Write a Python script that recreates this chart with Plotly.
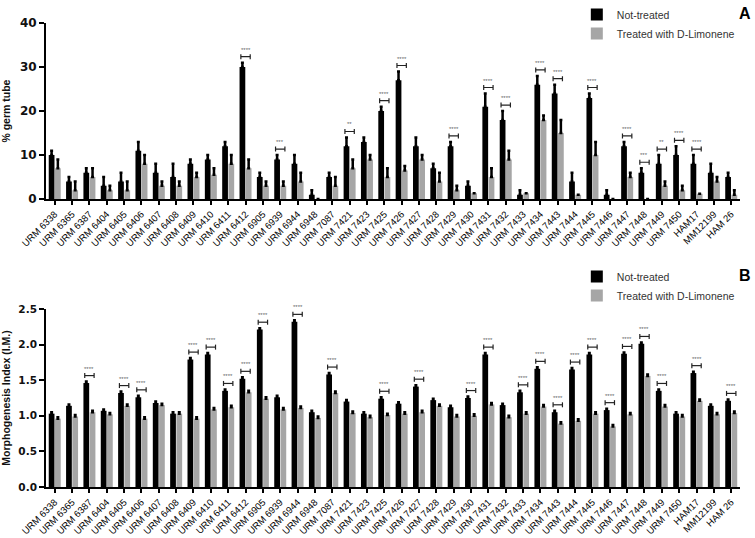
import plotly.graph_objects as go

categories = ["URM 6338", "URM 6365", "URM 6387", "URM 6404", "URM 6405", "URM 6406",
              "URM 6407", "URM 6408", "URM 6409", "URM 6410", "URM 6411", "URM 6412",
              "URM 6905", "URM 6939", "URM 6944", "URM 6948", "URM 7087", "URM 7421",
              "URM 7423", "URM 7425", "URM 7426", "URM 7427", "URM 7428", "URM 7429",
              "URM 7430", "URM 7431", "URM 7432", "URM 7433", "URM 7434", "URM 7443",
              "URM 7444", "URM 7445", "URM 7446", "URM 7447", "URM 7448", "URM 7449",
              "URM 7450", "HAM17", "MM12199", "HAM 26"]

# Panel A: % germ tube
germ_not_treated = [10, 4, 6, 3, 4, 11, 6, 5, 8, 9, 12, 30, 5, 9, 8, 1, 5, 12, 13, 20,
                    27, 12, 7, 12, 3, 21, 18, 1, 26, 24, 4, 23, 1, 12, 6, 8, 10, 8, 6, 5]
germ_not_treated_err = [1, 1, 1, 2, 2, 2, 2, 3, 1, 1, 1, 1, 1, 1, 2, 1, 1, 2, 1, 1,
                        2, 2, 1, 1, 1, 3, 2, 1, 2, 2, 2, 1, 1, 1, 1, 2, 2, 2, 2, 1]
germ_treated = [7, 2, 5, 2, 2, 8, 3, 3, 5, 5.5, 8, 7, 3, 3, 4, 0, 3, 7, 9, 5,
                6.5, 9, 4, 2, 1.3, 5, 9, 1.3, 18, 15, 1, 10, 0, 5, 0, 3, 2, 1.2, 4, 1]
germ_treated_err = [2, 2, 2, 1, 2, 2, 1, 1, 1, 1.5, 2, 2, 1, 1, 2, 0, 2, 2, 1, 2,
                    1, 1, 2, 1, 0, 2, 2, 0, 1, 3, 0, 3, 0, 1, 0, 1, 1, 0, 1, 1]
germ_sig = ["", "", "", "", "", "", "", "", "", "", "", "****", "", "***", "", "", "", "**",
            "", "****", "****", "", "", "****", "", "****", "****", "", "****", "****", "",
            "****", "", "****", "***", "**", "****", "****", "", ""]

# Panel B: Morphogenesis Index
mi_not_treated = [1.03, 1.14, 1.46, 1.07, 1.32, 1.26, 1.18, 1.03, 1.79, 1.86, 1.35, 1.52,
                  2.21, 1.26, 2.32, 1.05, 1.58, 1.20, 1.03, 1.24, 1.17, 1.41, 1.22, 1.12,
                  1.25, 1.86, 1.15, 1.33, 1.66, 1.05, 1.65, 1.86, 1.08, 1.87, 2.01, 1.35,
                  1.03, 1.60, 1.14, 1.21]
mi_not_treated_err = [0.02] * 40
mi_treated = [0.96, 0.99, 1.05, 1.02, 1.14, 0.96, 1.15, 1.03, 0.96, 1.09, 1.12, 1.33,
              1.24, 1.09, 1.11, 0.97, 1.32, 1.04, 0.98, 1.01, 1.03, 1.05, 1.14, 0.99,
              1.00, 1.16, 0.98, 1.03, 1.13, 0.89, 0.93, 1.03, 0.85, 1.02, 1.56, 1.13,
              0.99, 1.21, 1.02, 1.04]
mi_treated_err = [0.02] * 40
mi_sig = ["", "", "****", "", "****", "****", "", "", "****", "****", "****", "****",
          "****", "", "****", "", "****", "", "", "****", "", "****", "", "",
          "****", "****", "", "****", "****", "****", "****", "****", "****", "****",
          "****", "****", "", "****", "", "****"]

BLACK = "#000000"
GREY = "#a6a6a6"
FONT = "Liberation Sans, Arial, sans-serif"

fig = go.Figure()


def add_panel(nt, nt_err, tr, tr_err, xa, ya, leg):
    fig.add_trace(go.Bar(
        x=categories, y=nt, name="Not-treated", marker_color=BLACK,
        marker_line_width=0, xaxis=xa, yaxis=ya, legend=leg, offsetgroup="nt",
        error_y=dict(type="data", array=nt_err, arrayminus=[0] * len(nt_err),
                     symmetric=False, color=BLACK, thickness=2.5, width=1.5)))
    fig.add_trace(go.Bar(
        x=categories, y=tr, name="Treated with D-Limonene", marker_color=GREY,
        marker_line_width=0, xaxis=xa, yaxis=ya, legend=leg, offsetgroup="tr",
        error_y=dict(type="data", array=tr_err, arrayminus=[0] * len(tr_err),
                     symmetric=False, color=BLACK, thickness=2.5, width=1.5)))


add_panel(germ_not_treated, germ_not_treated_err, germ_treated, germ_treated_err, "x", "y", "legend")
add_panel(mi_not_treated, mi_not_treated_err, mi_treated, mi_treated_err, "x2", "y2", "legend2")


def add_sig(nt, nt_err, tr, tr_err, sig, xref, yref):
    for i, s in enumerate(sig):
        if not s:
            continue
        top = max(nt[i] + nt_err[i], tr[i] + tr_err[i])
        line = dict(color="#222222", width=1.2)
        fig.add_shape(type="line", xref=xref, yref=yref, ysizemode="pixel", yanchor=top,
                      x0=i - 0.27, x1=i + 0.27, y0=6, y1=6, line=line)
        for xx in (i - 0.27, i + 0.27):
            fig.add_shape(type="line", xref=xref, yref=yref, ysizemode="pixel", yanchor=top,
                          x0=xx, x1=xx, y0=3.5, y1=8.5, line=line)
        fig.add_annotation(x=i, y=top, xref=xref, yref=yref, text=s, showarrow=False,
                           yshift=13, font=dict(size=6, color="#666666", family=FONT))


add_sig(germ_not_treated, germ_not_treated_err, germ_treated, germ_treated_err, germ_sig, "x", "y")
add_sig(mi_not_treated, mi_not_treated_err, mi_treated, mi_treated_err, mi_sig, "x2", "y2")

xcommon = dict(type="category", showline=True, linecolor="black", linewidth=2,
               ticks="outside", ticklen=4, tickwidth=1.5, tickcolor="black",
               tickangle=-45, tickfont=dict(family=FONT, size=9.5, color="#000000"),
               showgrid=False, zeroline=False, automargin=False,
               domain=[0.061, 0.98])
ycommon = dict(showline=True, linecolor="black", linewidth=2, ticks="outside",
               ticklen=5, tickwidth=2, tickcolor="black", showgrid=False, zeroline=False,
               automargin=False)

fig.update_layout(
    width=755, height=538, margin=dict(l=0, r=0, t=0, b=0, autoexpand=False),
    paper_bgcolor="white", plot_bgcolor="white",
    barmode="group", bargap=0.28, bargroupgap=0.08,
    font=dict(family=FONT, color="#111111"),
    xaxis=dict(**xcommon, anchor="y"),
    yaxis=dict(**ycommon, anchor="x", domain=[0.630, 0.957], range=[0, 40],
               tickvals=[0, 10, 20, 30, 40],
               tickfont=dict(family="DejaVu Sans", size=12, color="#111111"),
               title=dict(text="<b>% germ tube</b>", standoff=8,
                          font=dict(family=FONT, size=10.5, color="#111111"))),
    xaxis2=dict(**xcommon, anchor="y2"),
    yaxis2=dict(**ycommon, anchor="x2", domain=[0.0948, 0.4257], range=[0, 2.5],
                tickvals=[0, 0.5, 1, 1.5, 2, 2.5], tickformat=".1f",
                tickfont=dict(family="DejaVu Sans", size=10.5, color="#111111"),
                title=dict(text="<b>Morphogenesis Index (I.M.)</b>", standoff=6,
                           font=dict(family=FONT, size=10.5, color="#111111"))),
    legend=dict(x=0.764, y=1.0, xanchor="left", yanchor="top", bgcolor="rgba(0,0,0,0)",
                font=dict(family=FONT, size=10.5, color="#333333"), tracegroupgap=0),
    legend2=dict(x=0.764, y=0.513, xanchor="left", yanchor="top", bgcolor="rgba(0,0,0,0)",
                 font=dict(family=FONT, size=10.5, color="#333333"), tracegroupgap=0),
)

fig.update_yaxes(tickfont_weight="bold")

fig.add_annotation(x=0.997, y=0.975, xref="paper", yref="paper", text="<b>A</b>",
                   showarrow=False, xanchor="right", yanchor="middle",
                   font=dict(family=FONT, size=16, color="black"))
fig.add_annotation(x=0.997, y=0.487, xref="paper", yref="paper", text="<b>B</b>",
                   showarrow=False, xanchor="right", yanchor="middle",
                   font=dict(family=FONT, size=16, color="black"))

fig.write_html("out.html", config={"displayModeBar": False},
               post_script="document.body.style.margin='0';")
